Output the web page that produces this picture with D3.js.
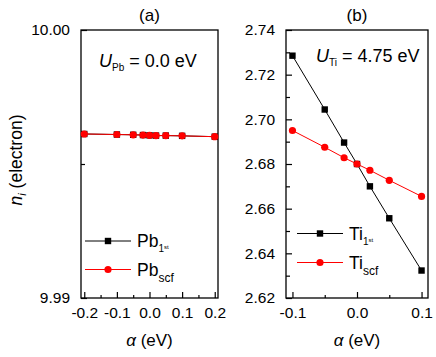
<!DOCTYPE html>
<html><head><meta charset="utf-8">
<script src="https://cdn.jsdelivr.net/npm/d3@7"></script>
<style>
body{margin:0;background:#fff;}
text{font-family:"Liberation Sans",Arial,sans-serif;fill:#000;}
</style></head><body>
<svg id="c" width="436" height="357"></svg>
<script>
// Panel (a): Pb
const alphaA = [-0.2, -0.1, -0.05, -0.02, 0, 0.02, 0.05, 0.1, 0.2];
const pb1st  = [9.99612, 9.99610, 9.99609, 9.99608, 9.99607, 9.99606, 9.99606, 9.99605, 9.99602];
const pbscf  = [9.99612, 9.99610, 9.99609, 9.99608, 9.99607, 9.99606, 9.99606, 9.99605, 9.99602];
const xTicksA = [-0.2, -0.1, 0.0, 0.1, 0.2];
const yTicksA = [9.99, 10.00];
// Panel (b): Ti
const alphaB = [-0.1, -0.05, -0.02, 0, 0.02, 0.05, 0.1];
const ti1st  = [2.7285, 2.7044, 2.6896, 2.6800, 2.6700, 2.6557, 2.6323];
const tiscf  = [2.6950, 2.6875, 2.6828, 2.6800, 2.6772, 2.6727, 2.6655];
const xTicksB = [-0.1, 0.0, 0.1];
const yTicksB = [2.62, 2.64, 2.66, 2.68, 2.70, 2.72, 2.74];

const svg = d3.select("#c");
const RED = "#ff0000";
const fmt1 = d => d3.format(".1f")(d).replace("−","-");
const fmt2 = d => d3.format(".2f")(d).replace("−","-");

function panel(o){
  const g = svg.append("g");
  const x = d3.scaleLinear().domain(o.xDom).range([o.x0, o.x1]);
  const y = d3.scaleLinear().domain(o.yDom).range([o.y1, o.y0]);
  // x axis major
  const ax = g.append("g").attr("transform",`translate(0,${o.y1})`)
    .call(d3.axisBottom(x).tickValues(o.xTicks).tickSizeInner(-6).tickSizeOuter(0).tickPadding(9).tickFormat(fmt1));
  ax.select(".domain").remove();
  ax.selectAll("text").style("font-size","15.5px");
  ax.selectAll("line").attr("stroke","#000").attr("stroke-width",1.2);
  g.append("g").attr("transform",`translate(0,${o.y1})`)
    .call(d3.axisBottom(x).tickValues(o.xMinor).tickSizeInner(-3).tickSizeOuter(0).tickFormat(""))
    .call(s=>{s.select(".domain").remove(); s.selectAll("line").attr("stroke-width",1.2);});
  // y axis major
  const ay = g.append("g").attr("transform",`translate(${o.x0},0)`)
    .call(d3.axisLeft(y).tickValues(o.yTicks).tickSizeInner(-6).tickSizeOuter(0).tickPadding(11).tickFormat(fmt2));
  ay.select(".domain").remove();
  ay.selectAll("text").style("font-size","15.5px");
  ay.selectAll("line").attr("stroke-width",1.2);
  g.append("g").attr("transform",`translate(${o.x0},0)`)
    .call(d3.axisLeft(y).tickValues(o.yMinor).tickSizeInner(-4).tickSizeOuter(0).tickFormat(""))
    .call(s=>{s.select(".domain").remove(); s.selectAll("line").attr("stroke-width",1.2);});
  // frame
  g.append("rect").attr("x",o.x0).attr("y",o.y0).attr("width",o.x1-o.x0).attr("height",o.y1-o.y0)
    .attr("fill","none").attr("stroke","#000").attr("stroke-width",1.3);
  const line = d3.line().x(d=>x(d[0])).y(d=>y(d[1]));
  const blk = o.alpha.map((a,i)=>[a,o.s1[i]]);
  const red = o.alpha.map((a,i)=>[a,o.s2[i]]);
  g.append("path").datum(blk).attr("d",line).attr("fill","none").attr("stroke","#000").attr("stroke-width",1);
  g.selectAll(".sq").data(blk).join("rect").attr("x",d=>x(d[0])-3.2).attr("y",d=>y(d[1])-3.2)
    .attr("width",6.4).attr("height",6.4).attr("fill","#000");
  g.append("path").datum(red).attr("d",line).attr("fill","none").attr("stroke",RED).attr("stroke-width",1);
  g.selectAll(".ci").data(red).join("circle").attr("cx",d=>x(d[0])).attr("cy",d=>y(d[1]))
    .attr("r",3.6).attr("fill",RED);
  // title
  g.append("text").attr("x",(o.x0+o.x1)/2).attr("y",21).attr("text-anchor","middle").style("font-size","17px").text(o.title);
  // x label
  const xl = g.append("text").attr("x",(o.x0+o.x1)/2).attr("y",346).attr("text-anchor","middle").style("font-size","17px");
  xl.append("tspan").style("font-style","italic").text("α");
  xl.append("tspan").text(" (eV)");
  // annotation
  const an = g.append("text").attr("x",o.annX).attr("y",o.annY).style("font-size","18px");
  an.append("tspan").style("font-style","italic").text("U");
  an.append("tspan").attr("dy",4).style("font-size","10px").text(o.annSub);
  an.append("tspan").attr("dy",-4).text(" = " + o.annVal);
  // legend
  const lg = [[o.leg1, "#000", "sq", o.legSub1], [o.leg2, RED, "ci", o.legSub2]];
  lg.forEach((L,i)=>{
    const ly = o.legY + i*o.legDy;
    g.append("line").attr("x1",o.legX).attr("x2",o.legX+46).attr("y1",ly).attr("y2",ly).attr("stroke",L[1]).attr("stroke-width",1);
    if(L[2]==="sq") g.append("rect").attr("x",o.legX+23-3.2).attr("y",ly-3.2).attr("width",6.4).attr("height",6.4).attr("fill",L[1]);
    else g.append("circle").attr("cx",o.legX+23).attr("cy",ly).attr("r",3.6).attr("fill",L[1]);
    const t = g.append("text").attr("x",o.legX+52).attr("y",ly+6).style("font-size","17.5px");
    t.append("tspan").text(L[0]);
    if(i===0){
      t.append("tspan").attr("dy",5).style("font-size","10px").text("1");
      t.append("tspan").attr("dy",-3).style("font-size","6px").text(L[3]);
    } else {
      t.append("tspan").attr("dy",6).style("font-size","12px").text(L[3]);
    }
  });
}

panel({x0:81,x1:218,y0:30,y1:298,xDom:[-0.21,0.21],yDom:[9.99,10.00],
  xTicks:xTicksA, xMinor:[-0.15,-0.05,0.05,0.15], yTicks:yTicksA, yMinor:[9.995],
  alpha:alphaA, s1:pb1st, s2:pbscf, title:"(a)",
  annX:99, annY:67, annSub:"Pb", annVal:"0.0 eV",
  leg1:"Pb", leg2:"Pb", legSub1:"st", legSub2:"scf", legX:85, legY:241, legDy:28.5});

panel({x0:286,x1:428,y0:30,y1:298,xDom:[-0.11,0.11],yDom:[2.62,2.74],
  xTicks:xTicksB, xMinor:[-0.05,0.05], yTicks:yTicksB, yMinor:[2.63,2.65,2.67,2.69,2.71,2.73],
  alpha:alphaB, s1:ti1st, s2:tiscf, title:"(b)",
  annX:316, annY:62, annSub:"Ti", annVal:"4.75 eV",
  leg1:"Ti", leg2:"Ti", legSub1:"st", legSub2:"scf", legX:297, legY:233.5, legDy:29});

// y label
const yl = svg.append("text").attr("transform","translate(22,160) rotate(-90)").attr("text-anchor","middle").style("font-size","17.5px");
yl.append("tspan").style("font-style","italic").text("n");
yl.append("tspan").attr("dy",4).style("font-size","11px").style("font-style","italic").text("i");
yl.append("tspan").attr("dy",-4).text(" (electron)");
</script>
</body></html>
